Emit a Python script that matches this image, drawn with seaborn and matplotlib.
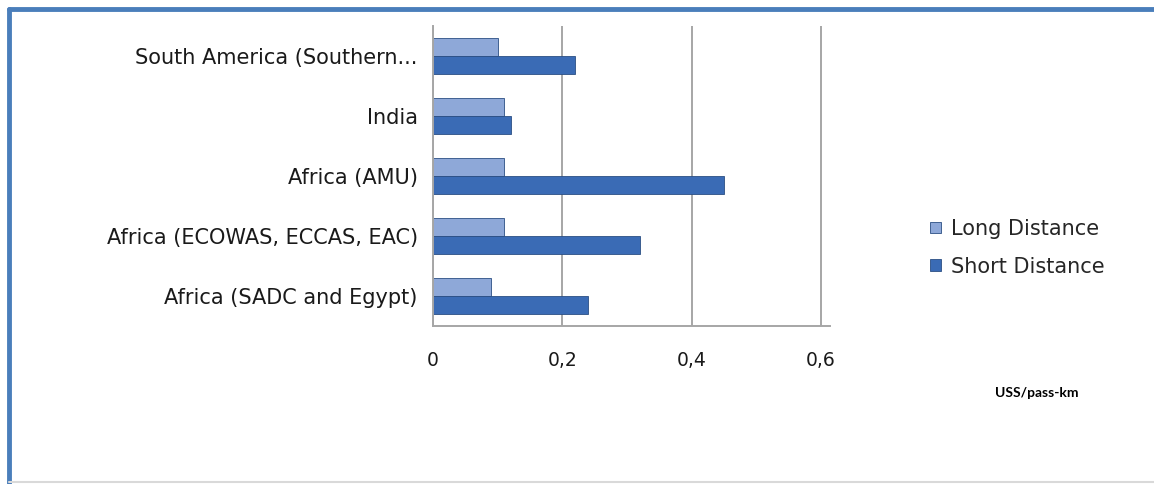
import pandas as pd
import numpy as np
import matplotlib.pyplot as plt
import seaborn as sns
from matplotlib.lines import Line2D

# valores (US$/pass-km)
regioes = ['South America (Southern...', 'India', 'Africa (AMU)',
           'Africa (ECOWAS, ECCAS, EAC)', 'Africa (SADC and Egypt)']
long_distance = [0.10, 0.11, 0.11, 0.11, 0.09]
short_distance = [0.22, 0.12, 0.45, 0.32, 0.24]
series = ['Long Distance', 'Short Distance']
cores = ['#8EA8D8', '#3A6BB5']
xticks = [0, 0.2, 0.4, 0.6]
xtick_labels = ['0', '0,2', '0,4', '0,6']

df = pd.DataFrame({
    'regiao': regioes * 2,
    'valor': long_distance + short_distance,
    'serie': [series[0]] * len(regioes) + [series[1]] * len(regioes),
})

sns.set_style('white')
plt.rcParams['font.family'] = ['DejaVu Sans']

fig = plt.figure(figsize=(11.54, 4.84), dpi=100)
ax = fig.add_axes([0.3752, 0.3264, 0.344, 0.62])

sns.barplot(data=df, y='regiao', x='valor', hue='serie', palette=cores,
            orient='h', width=0.6, saturation=1, edgecolor='#2B4F84',
            linewidth=0.6, ax=ax, legend=True)

ax.set_xlim(0, 0.6 * 0.344 / 0.3362)
ax.set_ylim(4.5, -0.5)
ax.set_xticks(xticks)
ax.set_xticklabels(xtick_labels, fontsize=13.5, color='#1A1A1A')
ax.set_yticks(range(len(regioes)))
ax.set_yticklabels(regioes, fontsize=15, color='#1A1A1A')
ax.set_yticks(np.arange(-0.5, len(regioes)), minor=True)
ax.tick_params(axis='y', which='major', length=0, pad=11)
ax.tick_params(axis='y', which='minor', length=6, color='#A6A6A6')
ax.tick_params(axis='x', length=0, pad=18)
ax.set_xlabel('')
ax.set_ylabel('')

# linhas de grade verticais (parede do fundo)
ax.grid(axis='x', color='#A6A6A6', linewidth=1.4)
ax.set_axisbelow(True)
for lado in ['top', 'right']:
    ax.spines[lado].set_visible(False)
for lado in ['left', 'bottom']:
    ax.spines[lado].set_color('#A6A6A6')
    ax.spines[lado].set_linewidth(1.4)

# legenda à direita
handles, labels = ax.get_legend_handles_labels()
ax.legend(handles, labels, loc='center left', bbox_to_anchor=(0.79, 0.488),
          bbox_transform=fig.transFigure, frameon=False, fontsize=15,
          handlelength=0.5, handleheight=0.5, labelspacing=0.85,
          handletextpad=0.5)

fig.text(0.862, 0.188, 'USS/pass-km', fontsize=10, fontweight='bold',
         family='Lato', color='black', ha='left', va='center')

# moldura azul da imagem
fig.add_artist(Line2D([0.008, 0.008], [0.0, 0.982], color='#4A7EBB', linewidth=3.5))
fig.add_artist(Line2D([0.008, 1.0], [0.982, 0.982], color='#4A7EBB', linewidth=3.5))
fig.add_artist(Line2D([0.008, 1.0], [0.004, 0.004], color='#D9D9D9', linewidth=1.5))

plt.savefig('out.png', dpi=100)
